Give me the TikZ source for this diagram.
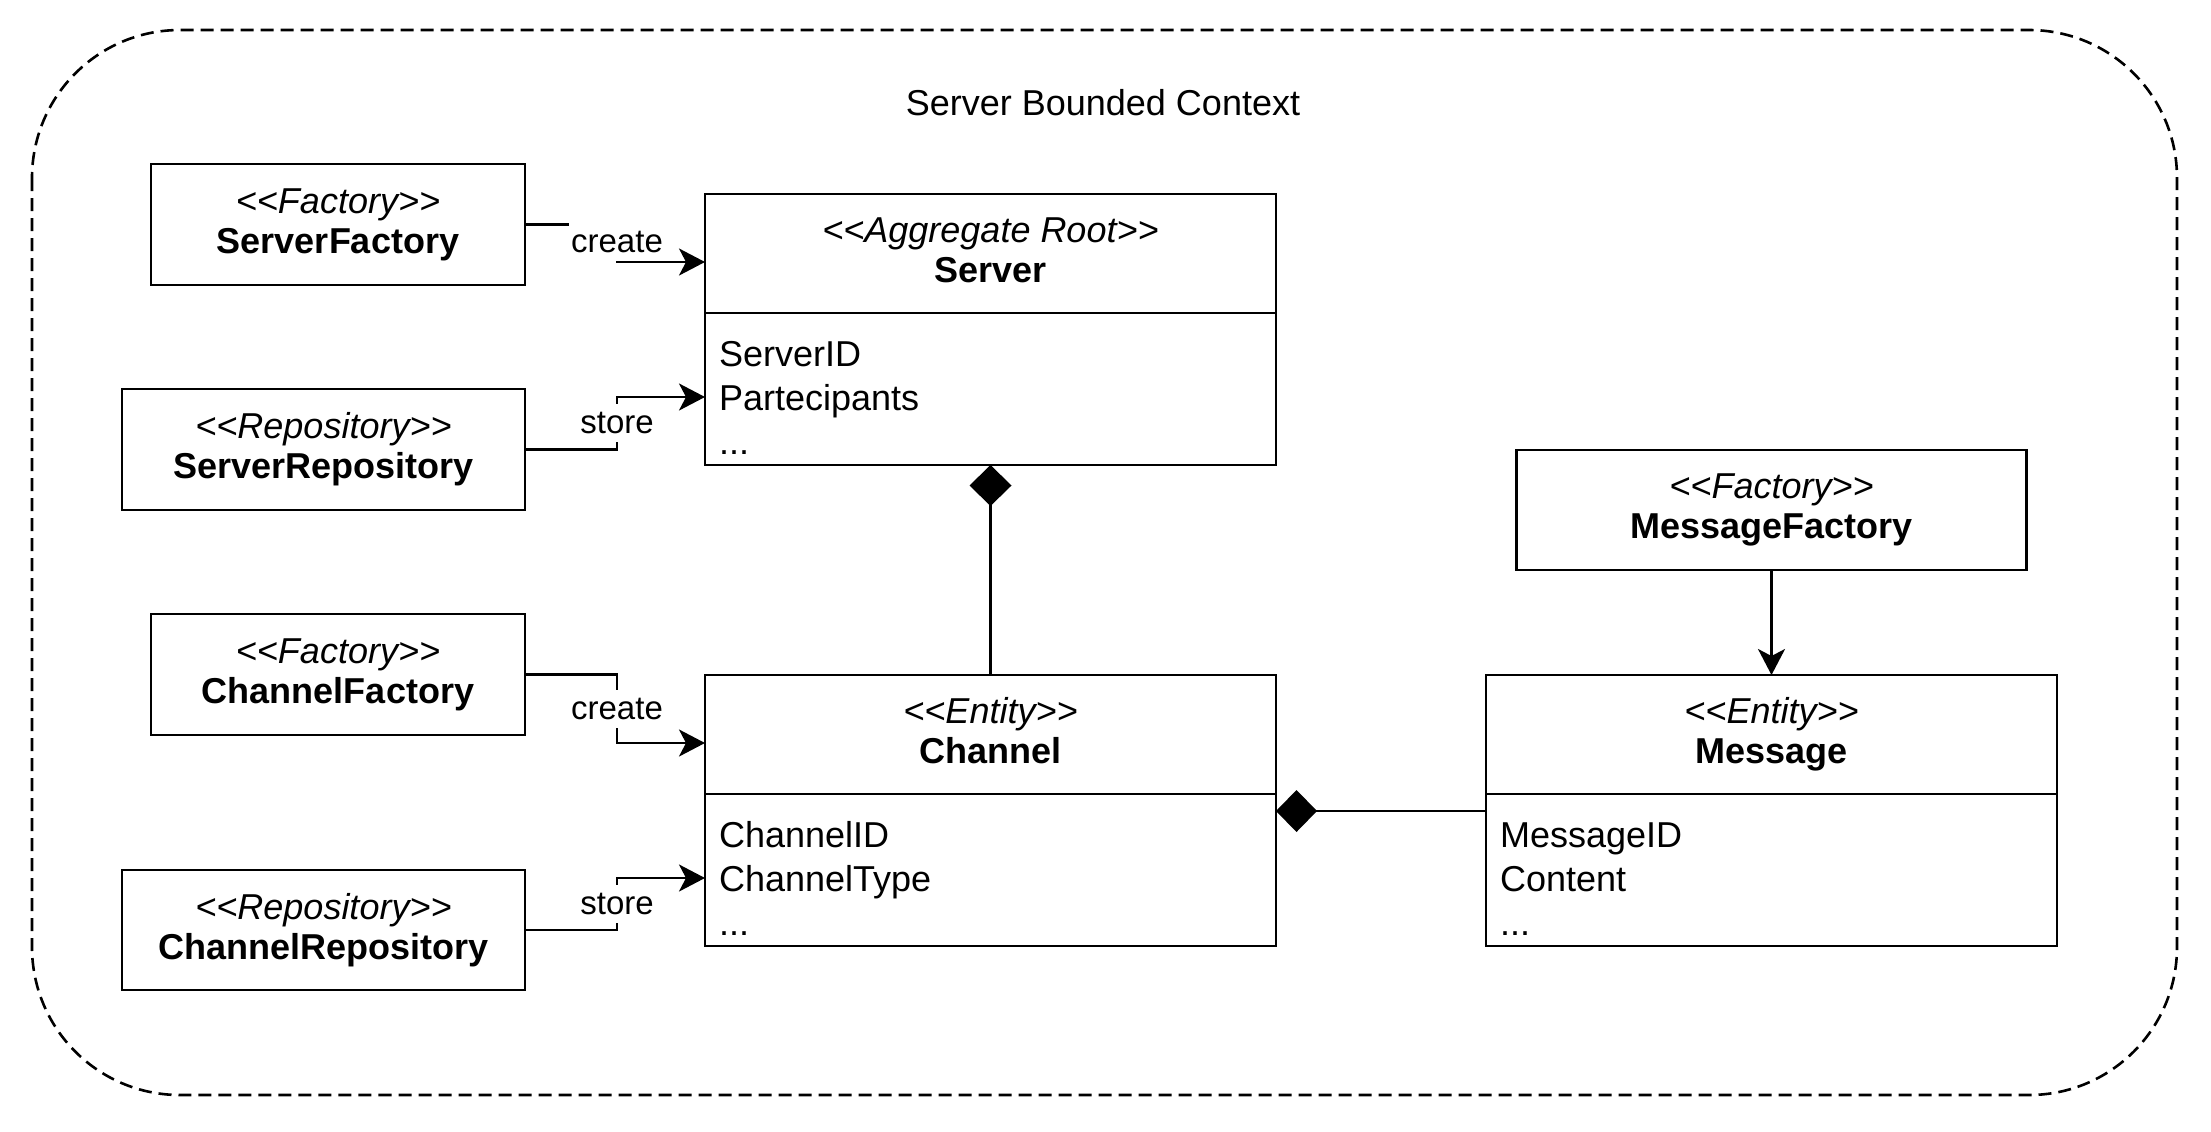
\documentclass[tikz,border=0pt]{standalone}
\usepackage{fontspec}
\setmainfont{Liberation Sans}[Ligatures=TeXOff]
\usetikzlibrary{arrows.meta, positioning}

\begin{document}
\begin{tikzpicture}
        [
        x=0.5pt, y=-0.5pt,
        box/.style={draw, rectangle, line width=1.3pt, outer sep=0pt, align=center, inner sep=2pt,
            font=\fontsize{18}{20}\selectfont, execute at end node={\vphantom{y}}},
        attrs/.style={draw, rectangle, line width=1.3pt, outer sep=0pt, align=left,
            inner xsep=7pt, inner ysep=2pt, text width=271.5pt, minimum height=76pt,
            font=\fontsize{18}{22}\selectfont, execute at begin node={\rule{0pt}{21pt}}},
        arrow/.style={-{Stealth[length=13pt, width=13.5pt, inset=3.5pt]}, line width=1.2pt},
        comp/.style={{Diamond[length=20.5pt, width=21pt]}-, line width=1.2pt},
        lbl/.style={fill=white, inner xsep=1pt, inner ysep=0pt, minimum height=19pt,
            font=\fontsize{16.5}{18}\selectfont}
        ]

        \useasboundingbox (0,0) rectangle (2211,1131);

        % Bounded context
        \draw [dash pattern=on 6.5pt off 3.5pt, line width=1.3pt, rounded corners=74pt]
            (32,30) rectangle (2177,1095);
        \node [font=\fontsize{18}{20}\selectfont] (title) at (1103,103) {Server Bounded Context};

        \node [box, minimum width=187pt, minimum height=60.5pt] (sfac) at (338,224.5)
            {\textit{<<Factory>>}\\ \textbf{ServerFactory}};
        \node [box, minimum width=201.5pt, minimum height=60.5pt] (srepo) at (323.5,449.5)
            {\textit{<<Repository>>}\\ \textbf{ServerRepository}};
        \node [box, minimum width=187pt, minimum height=60.5pt] (cfac) at (338,674.5)
            {\textit{<<Factory>>}\\ \textbf{ChannelFactory}};
        \node [box, minimum width=201.5pt, minimum height=60pt] (crepo) at (323.5,930)
            {\textit{<<Repository>>}\\ \textbf{ChannelRepository}};

        \node [box, minimum width=285.5pt, minimum height=59.5pt] (server) at (990.5,253.5)
            {\textit{<<Aggregate Root>>}\\ \textbf{Server}};
        \node [attrs, below=0pt of server] (serverattrs) {ServerID\\ Partecipants\\ ...};

        \node [box, minimum width=285.5pt, minimum height=59.5pt] (channel) at (990.5,734.5)
            {\textit{<<Entity>>}\\ \textbf{Channel}};
        \node [attrs, below=0pt of channel] (channelattrs) {ChannelID\\ ChannelType\\ ...};

        \node [box, minimum width=255pt, minimum height=60pt] (mfac) at (1771.5,510)
            {\textit{<<Factory>>}\\ \textbf{MessageFactory}};
        \node [box, minimum width=285.5pt, minimum height=59.5pt] (msg) at (1771.5,734.5)
            {\textit{<<Entity>>}\\ \textbf{Message}};
        \node [attrs, below=0pt of msg] (msgattrs) {MessageID\\ Content\\ ...};

        % Edges
        \draw [arrow] (sfac.east) -- ++(92,0) |- node[lbl, pos=0.23] {create} ([yshift=-4.25pt]server.west);
        \draw [arrow] (srepo.east) -- ++(92,0) |- node[lbl, pos=0.25] {store} ([yshift=-4pt]serverattrs.west);
        \draw [arrow] (cfac.east) -- ++(92,0) |- node[lbl, pos=0.25] {create} ([yshift=-4.25pt]channel.west);
        \draw [arrow] (crepo.east) -- ++(92,0) |- node[lbl, pos=0.25] {store} ([yshift=-4pt]channelattrs.west);

        \draw [comp] (serverattrs.south) -- (channel.north);
        \draw [comp] ([yshift=-8.5pt]channelattrs.north east) -- ([yshift=-8.5pt]msgattrs.north west);
        \draw [arrow] (mfac.south) -- (msg.north);

    \end{tikzpicture}
\end{document}
